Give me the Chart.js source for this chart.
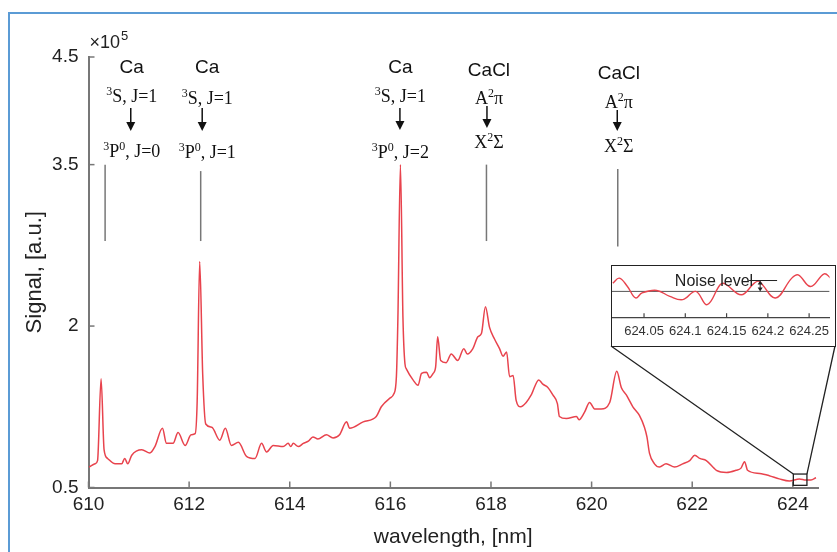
<!DOCTYPE html>
<html>
<head>
<meta charset="utf-8">
<script src="https://cdn.jsdelivr.net/npm/chart.js@4.4.0/dist/chart.umd.min.js"></script>
<style>
  html, body { margin: 0; padding: 0; background: #fff; }
  #wrap { position: relative; width: 837px; height: 552px; overflow: hidden; }
  #frame { position: absolute; left: 8px; top: 12px; width: 900px; height: 600px; border: 2px solid #5b9bd5; }
  #main { position: absolute; left: 0; top: 0; width: 837px; height: 552px; }
  #insetBox { position: absolute; left: 611px; top: 265px; width: 223px; height: 80px; border: 1.5px solid #222; background: #fff; }
  #inset { display: block; width: 223px; height: 80px; }
</style>
</head>
<body>
<div id="wrap">
  <div id="frame"></div>
  <canvas id="main" width="837" height="552"></canvas>
  <div id="insetBox"><canvas id="inset" width="223" height="80"></canvas></div>
</div>
<script>
// spectrum, signal in units of 1e5
const wavelength = [
  610.01, 610.13, 610.18, 610.25, 610.31, 610.38, 610.53, 610.66, 610.72, 610.78,
  610.86, 611.06, 611.22, 611.32, 611.47, 611.55, 611.68, 611.78, 611.92, 612.04,
  612.12, 612.16, 612.21, 612.27, 612.33, 612.45, 612.61, 612.72, 612.84, 612.98,
  613.14, 613.31, 613.44, 613.54, 613.67, 613.87, 613.97, 614.02, 614.07, 614.17,
  614.27, 614.37, 614.46, 614.56, 614.73, 614.86,
  614.99, 615.13, 615.19, 615.46, 615.72, 615.82, 615.99, 616.07, 616.12, 616.15,
  616.20, 616.25, 616.29, 616.32, 616.45, 616.55, 616.62, 616.72, 616.78, 616.85,
  616.90, 616.94, 617.00, 617.11, 617.21, 617.34, 617.46, 617.53, 617.64, 617.74,
  617.81, 617.89, 617.97, 618.07, 618.17, 618.24, 618.31, 618.37, 618.44, 618.50,
  618.59, 618.70, 618.80, 618.95, 619.03, 619.13, 619.23, 619.32, 619.36, 619.50,
  619.70, 619.75, 619.86, 619.96, 620.06, 620.19, 620.36, 620.50, 620.59, 620.69,
  620.82, 620.95, 621.05, 621.10, 621.15, 621.25, 621.35, 621.48, 621.65, 621.81,
  621.95, 622.05, 622.15, 622.28, 622.48, 622.68, 622.87, 622.97, 623.04, 623.10,
  623.34, 623.53, 623.73, 623.93, 624.13, 624.26, 624.36, 624.46
];
const signal = [
  0.69, 0.72, 0.75, 1.51, 0.85, 0.77, 0.72, 0.72, 0.77, 0.72,
  0.80, 0.85, 0.82, 0.88, 1.05, 0.91, 0.91, 1.01, 0.89, 0.99,
  1.00, 1.30, 2.60, 1.55, 1.09, 1.06, 0.94, 1.05, 0.89, 0.92,
  0.79, 0.77, 0.91, 0.83, 0.89, 0.88, 0.91, 0.88, 0.91, 0.88,
  0.91, 0.93, 0.97, 0.95, 0.99, 0.96,
  0.99, 1.11, 1.05, 1.11, 1.16, 1.25, 1.33, 1.37, 1.53, 2.08,
  3.50, 2.08, 1.65, 1.60, 1.50, 1.45, 1.56, 1.57, 1.52, 1.56,
  1.62, 1.90, 1.68, 1.66, 1.74, 1.68, 1.79, 1.74, 1.79, 1.90,
  1.93, 2.18, 1.99, 1.88, 1.79, 1.72, 1.76, 1.53, 1.54, 1.31,
  1.25, 1.29, 1.36, 1.50, 1.46, 1.43, 1.36, 1.28, 1.16, 1.14,
  1.16, 1.13, 1.20, 1.29, 1.23, 1.23, 1.29, 1.58, 1.43, 1.36,
  1.25, 1.17, 1.06, 0.97, 0.82, 0.72, 0.69, 0.72, 0.69, 0.72,
  0.75, 0.80, 0.77, 0.75, 0.66, 0.64, 0.66, 0.68, 0.74, 0.66,
  0.63, 0.61, 0.58, 0.56, 0.58, 0.57, 0.57, 0.59
];
const xTicks = [610, 612, 614, 616, 618, 620, 622, 624];
const yTicks = [0.5, 2, 3.5, 4.5];

// zoomed noise segment near 624 nm
const insetWl = [
  624.0122, 624.0201, 624.0299, 624.0398, 624.0476, 624.0654, 624.0812, 624.0969,
  624.1126, 624.1265, 624.1422, 624.1481, 624.1678, 624.1836, 624.1895, 624.2092,
  624.2290, 624.2368, 624.2518, 624.2683, 624.2762
];
const insetSignal = [
  0.5826, 0.5874, 0.5794, 0.5684, 0.5732, 0.5756, 0.5699, 0.5668,
  0.5747, 0.5620, 0.5810, 0.5820, 0.5715, 0.5826, 0.5842, 0.5684,
  0.5874, 0.5905, 0.5794, 0.5915, 0.5874
];
const insetTicks = [624.05, 624.1, 624.15, 624.2, 624.25];
const noiseMean = 0.5747;
const noiseTop = 0.5851;
const zoomWl = [624.01, 624.28];
const zoomSignal = [0.52, 0.625];

// emission line markers and their level labels
const markerWl = [610.33, 612.23, 617.91, 620.52];
const markerTop = [3.50, 3.44, 3.50, 3.46];
const markerBottom = [2.79, 2.79, 2.79, 2.74];
const transitions = [
  { species: 'Ca',   upper: '^3S, J=1', lower: '^3P^0, J=0', at: 610.86, arrowAt: 610.84, rows: [68, 97, 108, 131, 152] },
  { species: 'Ca',   upper: '^3S, J=1', lower: '^3P^0, J=1', at: 612.36, arrowAt: 612.26, rows: [68, 99, 108, 131, 153] },
  { species: 'Ca',   upper: '^3S, J=1', lower: '^3P^0, J=2', at: 616.20, arrowAt: 616.19, rows: [68, 97, 108, 130, 153] },
  { species: 'CaCl', upper: 'A^2π',     lower: 'X^2Σ',       at: 617.96, arrowAt: 617.92, rows: [71, 99, 106, 128, 143] },
  { species: 'CaCl', upper: 'A^2π',     lower: 'X^2Σ',       at: 620.54, arrowAt: 620.51, rows: [74, 103, 110, 131, 147] }
];

const SANS = '"Liberation Sans", Arial, sans-serif';
const SERIF = '"Liberation Serif", "Times New Roman", serif';
const lineRed = '#e8434d';
const axisGrey = '#777';
Chart.defaults.font.family = SANS;

// '^' marks the following character as superscript
function drawLevel(ctx, text, cx, y, size) {
  const parts = [];
  for (let i = 0; i < text.length; i++) {
    if (text[i] === '^') parts.push({ t: text[++i], sup: true });
    else parts.push({ t: text[i], sup: false });
  }
  const big = size + 'px ' + SERIF;
  const small = Math.round(size * 0.65) + 'px ' + SERIF;
  let w = 0;
  parts.forEach(p => { ctx.font = p.sup ? small : big; p.w = ctx.measureText(p.t).width; w += p.w; });
  let x = cx - w / 2;
  ctx.textAlign = 'left';
  ctx.textBaseline = 'middle';
  parts.forEach(p => {
    ctx.font = p.sup ? small : big;
    ctx.fillText(p.t, x, p.sup ? y - size * 0.3 : y);
    x += p.w;
  });
}

function drawArrow(ctx, x, y0, y1) {
  ctx.beginPath();
  ctx.moveTo(x, y0);
  ctx.lineTo(x, y1 - 8);
  ctx.stroke();
  ctx.beginPath();
  ctx.moveTo(x - 4.5, y1 - 9);
  ctx.lineTo(x + 4.5, y1 - 9);
  ctx.lineTo(x, y1);
  ctx.closePath();
  ctx.fill();
}

const spectrumDecor = {
  id: 'spectrumDecor',
  afterDatasetsDraw(chart) {
    const { ctx, chartArea: area, scales: { x, y } } = chart;
    ctx.save();

    // inward tick marks
    ctx.strokeStyle = axisGrey;
    ctx.lineWidth = 1.5;
    xTicks.forEach(v => {
      const px = x.getPixelForValue(v);
      ctx.beginPath(); ctx.moveTo(px, area.bottom); ctx.lineTo(px, area.bottom - 6); ctx.stroke();
    });
    yTicks.forEach(v => {
      const py = y.getPixelForValue(v);
      ctx.beginPath(); ctx.moveTo(area.left, py); ctx.lineTo(area.left + 6, py); ctx.stroke();
    });

    // exponent label
    ctx.fillStyle = '#222';
    ctx.textAlign = 'left';
    ctx.textBaseline = 'middle';
    ctx.font = '18px ' + SANS;
    ctx.fillText('×10', area.left + 1, area.top - 14);
    const w10 = ctx.measureText('×10').width;
    ctx.font = '13px ' + SANS;
    ctx.fillText('5', area.left + 2 + w10, area.top - 21);

    // line markers
    ctx.strokeStyle = axisGrey;
    ctx.lineWidth = 1.5;
    markerWl.forEach((wl, i) => {
      const px = x.getPixelForValue(wl);
      ctx.beginPath();
      ctx.moveTo(px, y.getPixelForValue(markerTop[i]));
      ctx.lineTo(px, y.getPixelForValue(markerBottom[i]));
      ctx.stroke();
    });

    // transition labels
    ctx.fillStyle = '#111';
    ctx.strokeStyle = '#111';
    ctx.lineWidth = 1.5;
    transitions.forEach(t => {
      const cx = x.getPixelForValue(t.at);
      const [ys, yu, ya0, ya1, yl] = t.rows;
      ctx.font = '19px ' + SANS;
      ctx.textAlign = 'center';
      ctx.textBaseline = 'middle';
      ctx.fillText(t.species, cx, ys);
      drawLevel(ctx, t.upper, cx, yu, 18);
      drawArrow(ctx, x.getPixelForValue(t.arrowAt), ya0, ya1);
      drawLevel(ctx, t.lower, cx, yl, 18);
    });

    // zoom window and connectors to the inset
    const bx0 = x.getPixelForValue(zoomWl[0]);
    const bx1 = x.getPixelForValue(zoomWl[1]);
    const by0 = y.getPixelForValue(zoomSignal[1]);
    const by1 = y.getPixelForValue(zoomSignal[0]);
    ctx.strokeStyle = '#222';
    ctx.lineWidth = 1.3;
    ctx.strokeRect(bx0, by0, bx1 - bx0, by1 - by0);
    const box = document.getElementById('insetBox');
    const insetBottom = box.offsetTop + box.offsetHeight - 1;
    ctx.beginPath();
    ctx.moveTo(bx0, by0); ctx.lineTo(box.offsetLeft, insetBottom);
    ctx.moveTo(bx1, by0); ctx.lineTo(box.offsetLeft + box.offsetWidth - 1, insetBottom);
    ctx.stroke();

    ctx.restore();
  }
};

new Chart(document.getElementById('main'), {
  type: 'line',
  data: {
    datasets: [{
      data: wavelength.map((w, i) => ({ x: w, y: signal[i] })),
      borderColor: lineRed,
      borderWidth: 1.5,
      pointRadius: 0,
      cubicInterpolationMode: 'monotone'
    }]
  },
  options: {
    responsive: false,
    animation: false,
    layout: { padding: { left: 0, top: 57, right: 19, bottom: 0 } },
    plugins: { legend: { display: false }, tooltip: { enabled: false } },
    scales: {
      x: {
        type: 'linear',
        min: 610,
        max: 624.5,
        afterBuildTicks: s => { s.ticks = xTicks.map(v => ({ value: v })); },
        afterFit: s => { s.height = 64.5; },
        grid: { display: false, drawTicks: false },
        border: { color: axisGrey, width: 2 },
        ticks: { color: '#222', padding: 6, maxRotation: 0, font: { size: 19 }, callback: v => String(v) },
        title: { display: true, text: 'wavelength, [nm]', color: '#222', font: { size: 21 }, padding: { top: 0, bottom: 2 } }
      },
      y: {
        min: 0.5,
        max: 4.5,
        afterBuildTicks: s => { s.ticks = yTicks.map(v => ({ value: v })); },
        afterFit: s => { s.width = 88.5; },
        grid: { display: false, drawTicks: false },
        border: { color: axisGrey, width: 2 },
        ticks: { color: '#222', padding: 10, font: { size: 19 }, callback: v => String(v) },
        title: { display: true, text: 'Signal, [a.u.]', color: '#222', font: { size: 22 }, padding: { top: 22, bottom: 0 } }
      }
    }
  },
  plugins: [spectrumDecor]
});

const insetDecor = {
  id: 'insetDecor',
  afterDatasetsDraw(chart) {
    const { ctx, chartArea: area, scales: { x, y } } = chart;
    ctx.save();
    ctx.strokeStyle = '#444';
    ctx.lineWidth = 1.2;
    insetTicks.forEach(v => {
      const px = x.getPixelForValue(v);
      ctx.beginPath(); ctx.moveTo(px, area.bottom); ctx.lineTo(px, area.bottom - 4); ctx.stroke();
    });

    ctx.fillStyle = '#222';
    ctx.font = '16px ' + SANS;
    ctx.textAlign = 'center';
    ctx.textBaseline = 'middle';
    ctx.fillText('Noise level', 102, 15.5);

    // noise amplitude marker
    const yMean = y.getPixelForValue(noiseMean);
    const yTop = y.getPixelForValue(noiseTop);
    const ax = x.getPixelForValue(624.1907);
    ctx.strokeStyle = '#222';
    ctx.lineWidth = 1;
    ctx.beginPath();
    ctx.moveTo(x.getPixelForValue(624.1773), yTop);
    ctx.lineTo(x.getPixelForValue(624.2112), yTop);
    ctx.moveTo(ax, yTop + 2);
    ctx.lineTo(ax, yMean - 2);
    ctx.stroke();
    ctx.beginPath();
    ctx.moveTo(ax, yTop); ctx.lineTo(ax - 2.5, yTop + 4); ctx.lineTo(ax + 2.5, yTop + 4); ctx.closePath();
    ctx.moveTo(ax, yMean); ctx.lineTo(ax - 2.5, yMean - 4); ctx.lineTo(ax + 2.5, yMean - 4); ctx.closePath();
    ctx.fill();
    ctx.restore();
  }
};

new Chart(document.getElementById('inset'), {
  type: 'line',
  data: {
    datasets: [
      {
        data: insetWl.map((w, i) => ({ x: w, y: insetSignal[i] })),
        borderColor: lineRed,
        borderWidth: 1.4,
        pointRadius: 0,
        tension: 0.4
      },
      {
        data: [{ x: 624.0112, y: noiseMean }, { x: 624.2748, y: noiseMean }],
        borderColor: '#555',
        borderWidth: 1,
        pointRadius: 0
      }
    ]
  },
  options: {
    responsive: false,
    animation: false,
    layout: { padding: 0 },
    plugins: { legend: { display: false }, tooltip: { enabled: false } },
    scales: {
      x: {
        type: 'linear',
        min: 624.0112,
        max: 624.2748,
        afterBuildTicks: s => { s.ticks = insetTicks.map(v => ({ value: v })); },
        afterFit: s => { s.height = 28.8; },
        grid: { display: false, drawTicks: false },
        border: { color: '#444', width: 1.2 },
        ticks: { color: '#333', padding: 6, maxRotation: 0, font: { size: 13 }, callback: v => String(v) }
      },
      y: { display: false, min: 0.55, max: 0.599 }
    }
  },
  plugins: [insetDecor]
});
</script>
</body>
</html>
